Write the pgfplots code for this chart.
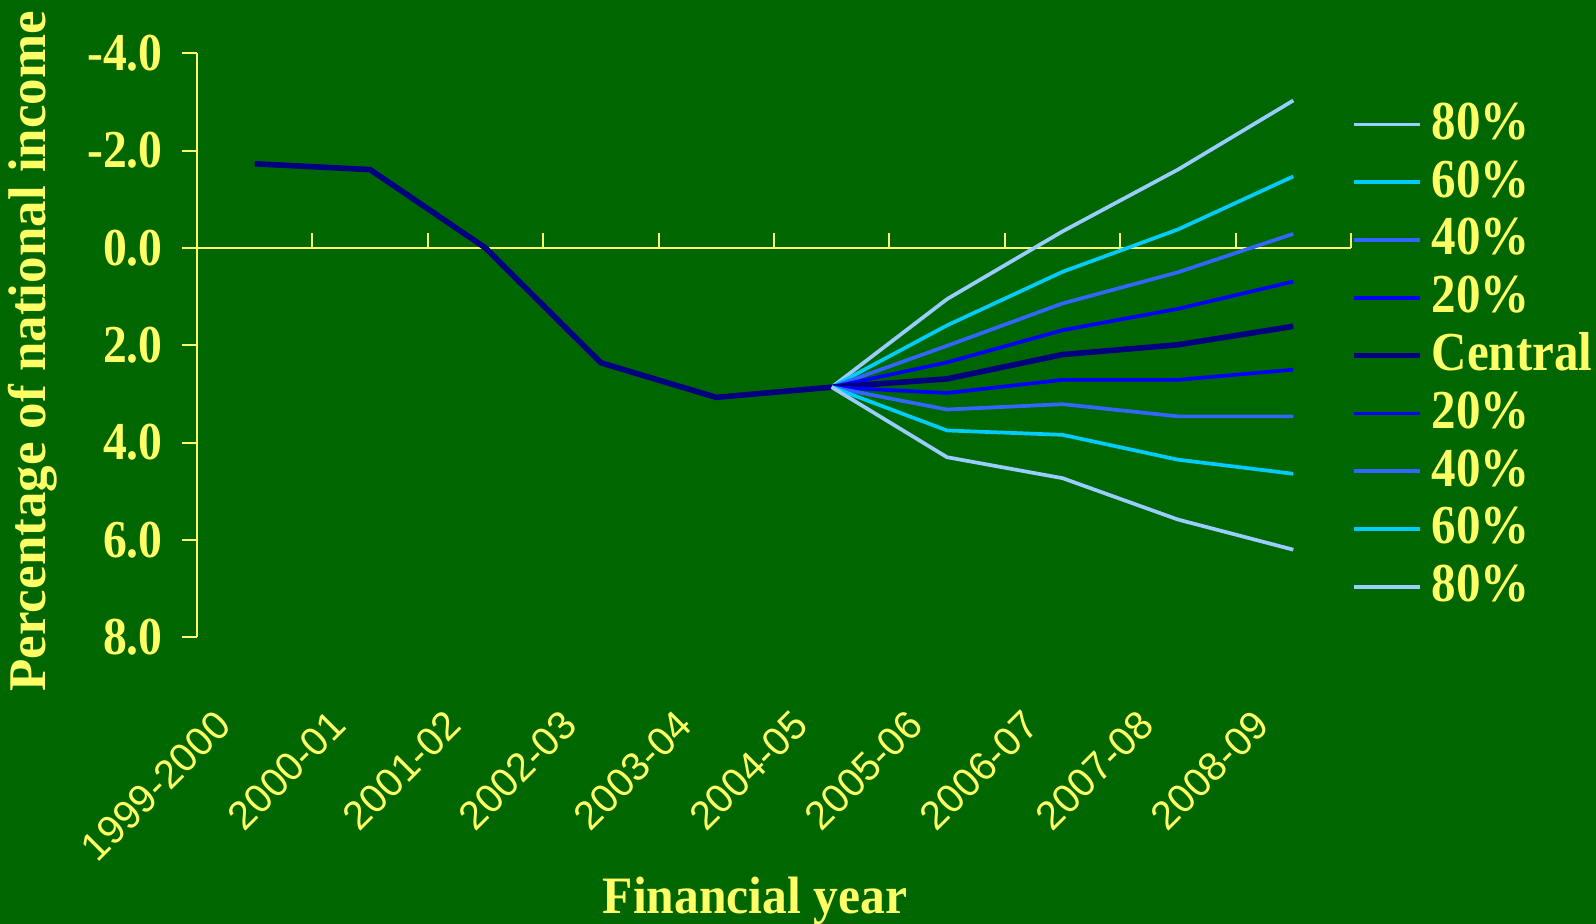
\documentclass[border=0pt]{standalone}
\usepackage{graphicx}
\usepackage{pgfplots}
\pgfplotsset{compat=1.18}
\usepackage{fontspec}
\setmainfont{Liberation Serif}
\newfontfamily\arialfont{Liberation Sans}
\definecolor{bg}{RGB}{0,102,0}
\definecolor{yel}{RGB}{255,255,102}
\definecolor{c80}{RGB}{153,204,255}
\definecolor{c60}{RGB}{0,204,255}
\definecolor{c40}{RGB}{51,102,255}
\definecolor{c20}{RGB}{0,0,255}
\definecolor{cc}{RGB}{0,0,128}
\newcommand{\vs}[1]{\scalebox{1}[1.12]{#1}}

\pgfplotstableread{
x y
0.5 -1.73
1.5 -1.61
2.5 0.00
3.5 2.36
4.5 3.07
5.5 2.86
6.5 2.69
7.5 2.19
8.5 1.99
9.5 1.61
}\central

\pgfplotstableread{
x u80 u60 u40 u20 l20 l40 l60 l80
5.5 2.86 2.86 2.86 2.86 2.86 2.86 2.86 2.86
6.5 1.05 1.59 2.01 2.35 2.98 3.32 3.75 4.30
7.5 -0.34 0.49 1.14 1.69 2.71 3.21 3.84 4.73
8.5 -1.61 -0.38 0.50 1.25 2.71 3.46 4.35 5.58
9.5 -3.03 -1.47 -0.29 0.69 2.50 3.46 4.64 6.20
}\bands

\begin{document}
\begin{tikzpicture}
\fill[bg] (-98.5pt,-143.35pt) rectangle (699.5pt,318.65pt);
\begin{axis}[
  at={(0pt,0pt)}, anchor=south west,
  scale only axis, width=577pt, height=292pt,
  xmin=0, xmax=10, ymin=-4, ymax=8, y dir=reverse,
  clip=false,
  axis y line=left, axis x line=bottom,
  x axis line style={draw=none},
  y axis line style={yel, line width=1pt, -},
  xtick={0.5,1.5,...,9.5},
  xticklabels={1999-2000,2000-01,2001-02,2002-03,2003-04,2004-05,2005-06,2006-07,2007-08,2008-09},
  xtick style={draw=none},
  ytick={-4,-2,0,2,4,6,8},
  yticklabels={\vs{-4.0},\vs{-2.0},\vs{0.0},\vs{2.0},\vs{4.0},\vs{6.0},\vs{8.0}},
  ytick style={yel, line width=1pt},
  ytick align=outside,
  major tick length=7.5pt,
  xticklabel style={xshift=-15.6pt, yshift=-36.7pt, rotate=45, anchor=east, inner sep=0pt,
     font=\arialfont\fontsize{20}{24}\selectfont, text=yel},
  yticklabel style={anchor=east, inner sep=0pt, xshift=-9.5pt, font=\fontsize{23.8}{28}\selectfont\bfseries, text=yel},
  legend style={draw=none, fill=none, at={(axis cs:10,-4)}, anchor=north west,
     xshift=0pt, yshift=-24pt, inner sep=0pt, outer sep=0pt,
     font=\fontsize{24.5}{28}\selectfont\bfseries, text=yel,
     nodes={inner sep=0pt, text height=19pt, text depth=9.9pt},
     row sep=0pt, column sep=0pt,
     /tikz/every odd column/.append style={column sep=4.6pt}},
  legend cell align=left,
  legend image code/.code={\draw[#1] (0pt,2.9pt) -- (33pt,2.9pt);},
]
\pgfplotsinvokeforeach{1,...,10}{\draw[yel, line width=1pt] (axis cs:#1,0) -- ++(0pt,7.5pt);}
\draw[yel, line width=1pt] (axis cs:0,0) -- (axis cs:10,0);

\addplot[c80, line width=1.85pt] table[x=x, y=u80] {\bands};
\addlegendentry{\vs{80\%}}
\addplot[c60, line width=1.85pt] table[x=x, y=u60] {\bands};
\addlegendentry{\vs{60\%}}
\addplot[c40, line width=1.85pt] table[x=x, y=u40] {\bands};
\addlegendentry{\vs{40\%}}
\addplot[c20, line width=1.85pt] table[x=x, y=u20] {\bands};
\addlegendentry{\vs{20\%}}
\addplot[cc, line width=2.8pt] table[x=x, y=y] {\central};
\addlegendentry{\vs{Central}}
\addplot[c20, line width=1.85pt] table[x=x, y=l20] {\bands};
\addlegendentry{\vs{20\%}}
\addplot[c40, line width=1.85pt] table[x=x, y=l40] {\bands};
\addlegendentry{\vs{40\%}}
\addplot[c60, line width=1.85pt] table[x=x, y=l60] {\bands};
\addlegendentry{\vs{60\%}}
\addplot[c80, line width=1.85pt] table[x=x, y=l80] {\bands};
\addlegendentry{\vs{80\%}}
\end{axis}
\node[anchor=base, text=yel, font=\fontsize{24.8}{30}\selectfont\bfseries] at (279pt,-138.35pt) {\scalebox{1}[1.06]{Financial year}};
\node[rotate=90, text=yel, font=\fontsize{26.5}{30}\selectfont\bfseries] at (-82pt,143pt) {Percentage of national income};
\pgfresetboundingbox
\useasboundingbox (-98.5pt,-143.35pt) rectangle (699.5pt,318.65pt);
\end{tikzpicture}
\end{document}
